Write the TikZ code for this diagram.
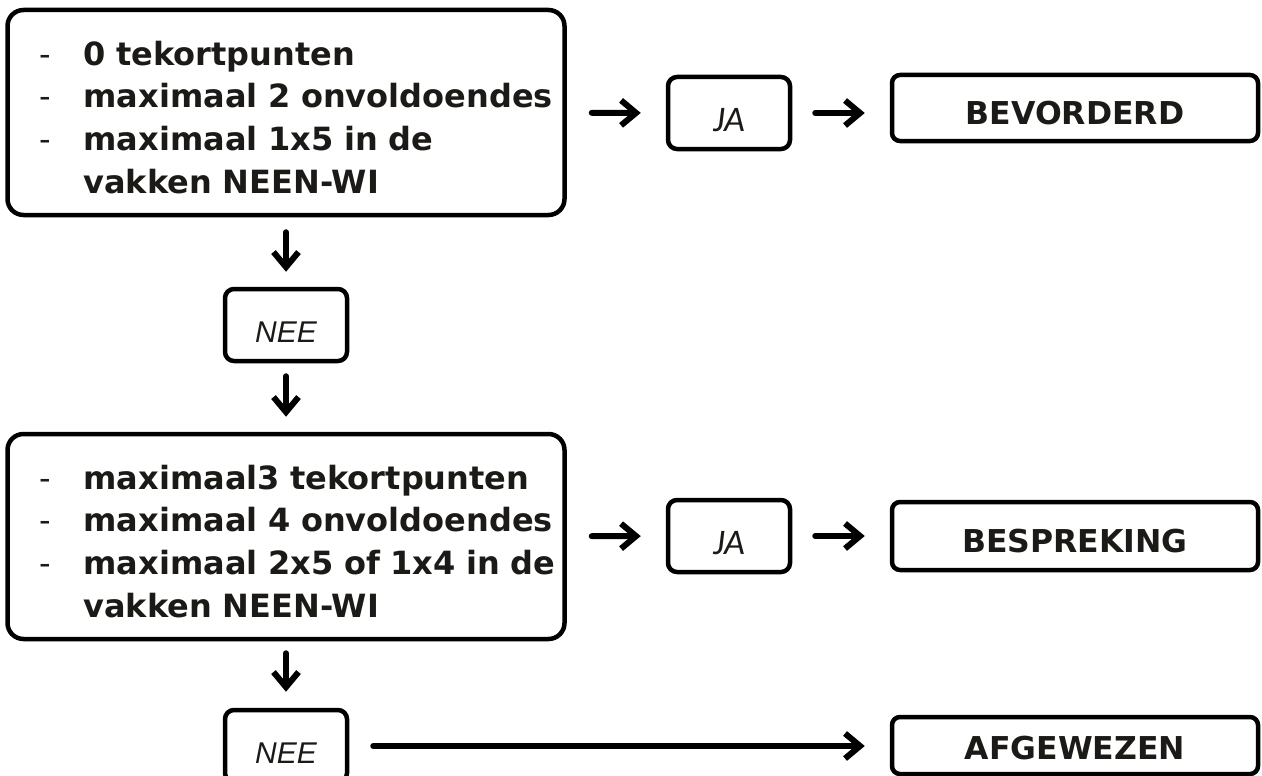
\documentclass[tikz,border=0pt]{standalone}
\usepackage{fontspec}
\setmainfont{DejaVu Sans}
\newfontfamily\jafont{Carlito}
\newfontfamily\neefont{Liberation Sans}
\usetikzlibrary{arrows.meta,positioning}
\tikzset{>={Straight Barb[length=15pt,width=25pt]}}
\definecolor{ink}{HTML}{1C1A17}
\hfuzz=20pt
\newcommand{\critrow}[2]{\makebox[76pt][l]{\hspace*{32pt}\mdseries #1}\mbox{#2}}

\begin{document}
\begin{tikzpicture}[x=1pt,y=-1pt,
  crit/.style={draw,line width=4.5pt,rounded corners=16pt,minimum width=557pt,minimum height=205pt,
    inner xsep=0pt,text width=557pt,align=left,font=\fontsize{32}{42.7}\selectfont\bfseries,text=ink},
  answer/.style={draw,line width=4.5pt,rounded corners=9pt,minimum width=122pt,minimum height=72pt,text=ink},
  ja/.style={answer,text height=38pt,font=\jafont\itshape\fontsize{36}{38}\selectfont},
  nee/.style={answer,text height=34pt,font=\neefont\itshape\fontsize{30}{36}\selectfont},
  result/.style={draw,line width=4.5pt,rounded corners=8pt,minimum width=366pt,text height=33pt,
    font=\fontsize{31.5}{36}\selectfont\bfseries,text=ink},
  arr/.style={->,line width=6pt,line cap=round}]
\useasboundingbox (0,0) rectangle (1262,776);
\node[crit] (crit1) at (286,112.5) {\rule{0pt}{34pt}\critrow{-}{0 tekortpunten}\\
  \critrow{-}{maximaal 2 onvoldoendes}\\
  \critrow{-}{maximaal 1x5 in de}\\
  \critrow{}{vakken NEEN-WI}};
\node[ja] (ja1) at (729,113) {JA};
\node[result,minimum height=66pt] (pass) at (1075,108) {BEVORDERD};
\node[nee] (nee1) at (286,325) {NEE};
\node[crit] (crit2) at (286,536.5) {\rule{0pt}{34pt}\critrow{-}{maximaal3 tekortpunten}\\
  \critrow{-}{maximaal 4 onvoldoendes}\\
  \critrow{-}{maximaal 2x5 of 1x4 in de}\\
  \critrow{}{vakken NEEN-WI}};
\node[ja] (ja2) at (729,536) {JA};
\node[result,minimum height=68pt] (talk) at (1075,536) {BESPREKING};
\node[nee] (nee2) at (286,746) {NEE};
\node[result,minimum height=57pt,text height=29pt] (fail) at (1075,745.5) {AFGEWEZEN};
\draw[arr,shorten <=25pt,shorten >=25pt] (crit1) -- (ja1);
\draw[arr,shorten <=23pt,shorten >=25pt] (ja1) -- (ja1 -| pass.west);
\draw[arr,shorten <=15pt,shorten >=15pt] (crit1) -- (nee1);
\draw[arr,shorten <=13pt,shorten >=15pt] (nee1) -- (crit2);
\draw[arr,shorten <=25pt,shorten >=25pt] (crit2) -- (ja2);
\draw[arr,shorten <=23pt,shorten >=25pt] (ja2) -- (talk);
\draw[arr,shorten <=12pt,shorten >=16pt] (crit2) -- (nee2);
\draw[arr,shorten <=24pt,shorten >=25pt] (nee2) -- (nee2 -| fail.west);
\end{tikzpicture}
\end{document}
